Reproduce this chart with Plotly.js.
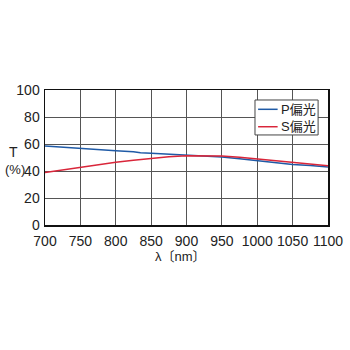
<!DOCTYPE html>
<html><head><meta charset="utf-8">
<script src="https://cdn.plot.ly/plotly-3.0.1.min.js"></script>
<style>html,body{margin:0;padding:0;background:#fff}#chart{width:350px;height:350px}</style>
</head><body><div id="chart"></div>
<script>
const wavelength = [700,725,750,775,800,825,835,850,875,900,925,950,975,1000,1025,1050,1075,1100];
const pPol = [58.5,57.5,56.6,55.8,55.0,54.3,53.5,53.2,52.6,52.0,51.2,50.4,49.0,47.6,46.2,44.9,44.0,43.0];
const sWave = [700,725,750,775,800,825,850,875,900,925,950,975,1000,1025,1050,1075,1100];
const sPol = [38.8,40.8,42.7,44.6,46.4,48.0,49.3,50.5,51.3,51.5,51.2,50.2,48.9,47.6,46.4,45.0,43.8];
const xTicks = [700,750,800,850,900,950,1000,1050,1100];
const yTicks = [0,20,40,60,80,100];
const seriesNames = ['P偏光','S偏光'];
const seriesColors = ['#1f5aa6','#d9263a'];

const font = 'Liberation Sans, Arial, Noto Sans CJK JP, sans-serif';
const traces = [
  {x: wavelength, y: pPol, name: seriesNames[0], mode: 'lines', line: {color: seriesColors[0], width: 1.5}},
  {x: sWave, y: sPol, name: seriesNames[1], mode: 'lines', line: {color: seriesColors[1], width: 1.5}}
];
// custom legend box (paper coordinates)
const lgX0 = 0.742, lgX1 = 0.965, lgY0 = 0.667, lgY1 = 0.926;
const lgRows = [0.857, 0.728];
const shapes = [
  {type: 'rect', xref: 'paper', yref: 'paper', x0: lgX0, x1: lgX1, y0: lgY0, y1: lgY1,
   fillcolor: '#fff', line: {color: '#444', width: 1}, layer: 'above'}
];
const annotations = [
  {text: 'λ〔nm〕', xref: 'paper', yref: 'paper', x: 0.48, y: -0.23, xanchor: 'center', yanchor: 'middle', showarrow: false, font: {size: 13}},
  {text: 'T', xref: 'paper', yref: 'paper', x: -0.11, y: 0.54, xanchor: 'center', yanchor: 'middle', showarrow: false, font: {size: 14}},
  {text: '(%)', xref: 'paper', yref: 'paper', x: -0.107, y: 0.41, xanchor: 'center', yanchor: 'middle', showarrow: false, font: {size: 13}}
];
lgRows.forEach((ry, i) => {
  shapes.push({type: 'line', xref: 'paper', yref: 'paper', x0: 0.753, x1: 0.822, y0: ry, y1: ry,
               line: {color: seriesColors[i], width: 1.5}, layer: 'above'});
  annotations.push({text: seriesNames[i], xref: 'paper', yref: 'paper', x: 0.826, y: ry,
                    xanchor: 'left', yanchor: 'middle', showarrow: false, font: {size: 13, color: '#222'}});
});
const layout = {
  width: 350, height: 350,
  margin: {l: 45, r: 22, t: 90, b: 125},
  paper_bgcolor: '#fff', plot_bgcolor: '#fff',
  font: {family: font, size: 14, color: '#222'},
  showlegend: false,
  xaxis: {range: [700, 1100], tickvals: xTicks, ticktext: xTicks.map(String),
          showgrid: true, gridcolor: '#555', gridwidth: 1, zeroline: false,
          showline: true, linecolor: '#111', linewidth: 1.5, mirror: true,
          ticks: '', ticklabelstandoff: 3, tickfont: {size: 14}, fixedrange: true},
  yaxis: {range: [0, 100], tickvals: yTicks, ticktext: yTicks.map(String),
          showgrid: true, gridcolor: '#555', gridwidth: 1, zeroline: false,
          showline: true, linecolor: '#111', linewidth: 1.5, mirror: true,
          ticks: '', ticklabelstandoff: 1, tickfont: {size: 14}, fixedrange: true},
  shapes: shapes,
  annotations: annotations
};
Plotly.newPlot('chart', traces, layout, {displayModeBar: false, staticPlot: true});
</script></body></html>
